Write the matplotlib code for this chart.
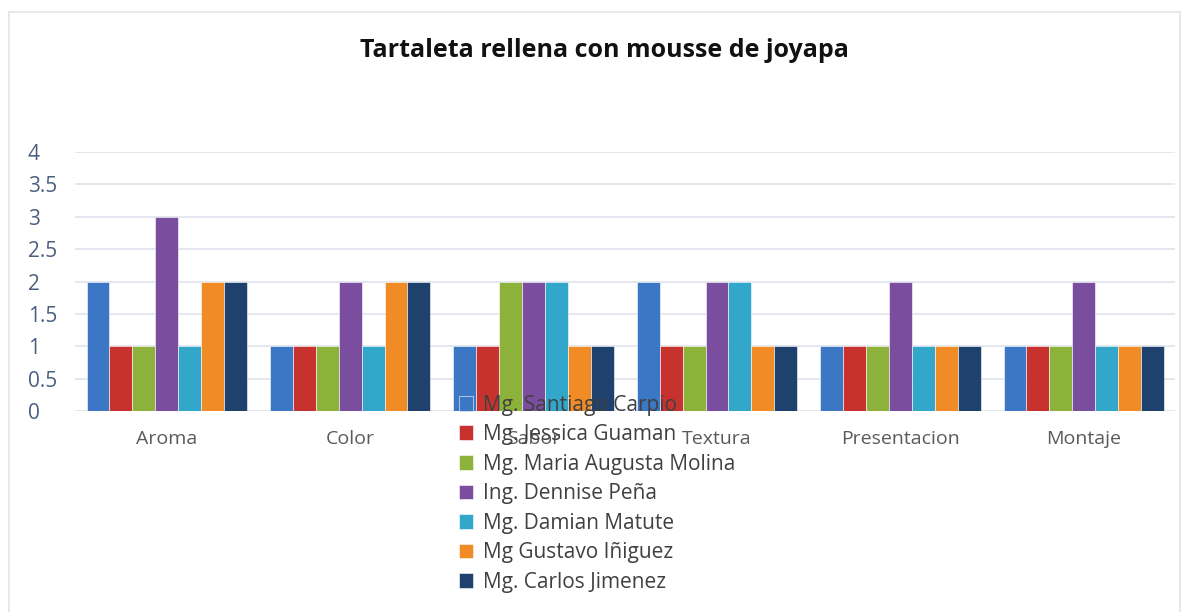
import numpy as np
import matplotlib
matplotlib.use('Agg')
import matplotlib.pyplot as plt
from matplotlib.patches import Rectangle

categories = ['Aroma', 'Color', 'Sabor', 'Textura', 'Presentacion', 'Montaje']
jurados = ['Mg. Santiago Carpio', 'Mg. Jessica Guaman', 'Mg. Maria Augusta Molina',
           'Ing. Dennise Peña', 'Mg. Damian Matute', 'Mg Gustavo Iñiguez', 'Mg. Carlos Jimenez']

santiago = [2, 1, 1, 2, 1, 1]
jessica = [1, 1, 1, 1, 1, 1]
maria = [1, 1, 2, 1, 1, 1]
dennise = [3, 2, 2, 2, 2, 2]
damian = [1, 1, 2, 2, 1, 1]
gustavo = [2, 2, 1, 1, 1, 1]
carlos = [2, 2, 1, 1, 1, 1]
series = [santiago, jessica, maria, dennise, damian, gustavo, carlos]

colors = ['#3b77c4', '#c7322f', '#8db23c', '#7a4d9f', '#33a7c9', '#f08b26', '#1e416d']

plt.rcParams['font.family'] = ['Open Sans', 'DejaVu Sans']

fig = plt.figure(figsize=(11.82, 6.12), dpi=100)
ax = fig.add_axes([0.0635, 0.3284, 0.931, 0.4232])

x = np.arange(len(categories))
bw = 0.125
for i, (name, vals) in enumerate(zip(jurados, series)):
    ax.bar(x + (i - 3) * bw, vals, width=bw, color=colors[i], label=name,
           edgecolor='white', linewidth=0.4, zorder=3)

ax.set_xlim(-0.5, len(categories) - 0.5)
ax.set_ylim(0, 4)
ax.set_yticks(np.arange(0, 4.01, 0.5))
ax.set_yticklabels(['0', '0.5', '1', '1.5', '2', '2.5', '3', '3.5', '4'])
ax.set_xticks(x)
ax.set_xticklabels(categories)
ax.grid(axis='y', color='#dfe3ec', linewidth=1.2, zorder=0)
for spine in ax.spines:
    ax.spines[spine].set_visible(False)
ax.tick_params(axis='both', length=0)
ax.tick_params(axis='y', colors='#4a5f80', pad=34, labelsize=15)
for lab in ax.get_yticklabels():
    lab.set_horizontalalignment('left')
ax.tick_params(axis='x', colors='#5a5a5a', pad=14, labelsize=14)

fig.text(0.511, 0.918, 'Tartaleta rellena con mousse de joyapa', ha='center', va='center',
         fontsize=18, fontweight='bold', color='#111111')

# legend sits over the bars like in the original
leg = fig.legend(loc='upper left', bbox_to_anchor=(0.381, 0.369), frameon=False,
                 fontsize=15, handlelength=0.7, handleheight=0.7, handletextpad=0.45,
                 labelspacing=0.41, borderaxespad=0)
for t in leg.get_texts():
    t.set_color('#404040')

fig.patches.append(Rectangle((0.0076, -0.01), 0.9905, 0.99, transform=fig.transFigure,
                             fill=False, edgecolor='#e4e4e4', linewidth=1.2))

plt.savefig('out.png', dpi=100)
